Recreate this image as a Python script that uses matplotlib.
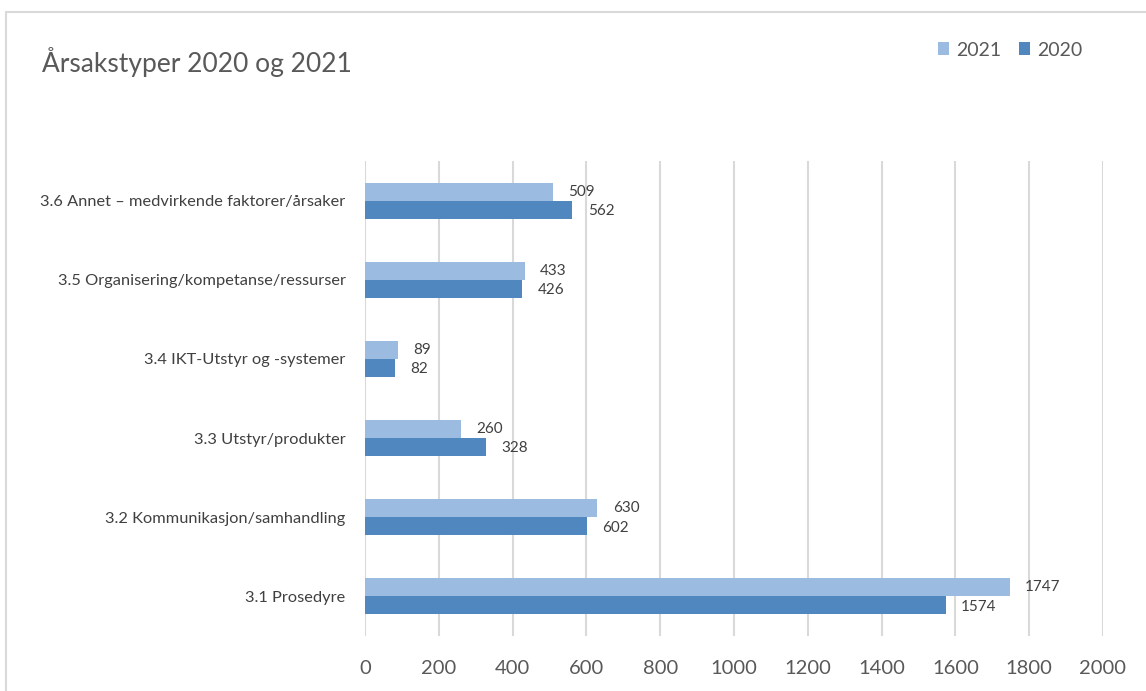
import numpy as np
import matplotlib.pyplot as plt
from matplotlib.patches import Rectangle

plt.rcParams['font.family'] = ['Lato', 'DejaVu Sans']

kategorier = ['3.1 Prosedyre',
              '3.2 Kommunikasjon/samhandling',
              '3.3 Utstyr/produkter',
              '3.4 IKT-Utstyr og -systemer',
              '3.5 Organisering/kompetanse/ressurser',
              '3.6 Annet \u2013 medvirkende faktorer/årsaker']
verdier_2021 = [1747, 630, 260, 89, 433, 509]
verdier_2020 = [1574, 602, 328, 82, 426, 562]
xticks = [0, 200, 400, 600, 800, 1000, 1200, 1400, 1600, 1800, 2000]

farge_2021 = '#9bbbe0'
farge_2020 = '#4f87be'
tekstfarge = '#595959'

W, H = 1146, 691
fig = plt.figure(figsize=(W / 100, H / 100), dpi=100)
# plottområde i piksler: x 365-1103, y 161-636
ax = fig.add_axes([365 / W, 1 - 636 / H, 738 / W, 475 / H])

y = np.arange(len(kategorier))
h = 0.228
b21 = ax.barh(y + h / 2, verdier_2021, height=h, color=farge_2021, label='2021', zorder=3)
b20 = ax.barh(y - h / 2, verdier_2020, height=h, color=farge_2020, label='2020', zorder=3)

for rect, v in zip(b21, verdier_2021):
    ax.annotate(str(v), (rect.get_width(), rect.get_y() + rect.get_height() / 2),
                xytext=(11, 0), textcoords='offset points', va='center', ha='left',
                fontsize=11, color='#404040')
for rect, v in zip(b20, verdier_2020):
    ax.annotate(str(v), (rect.get_width(), rect.get_y() + rect.get_height() / 2),
                xytext=(11, -1), textcoords='offset points', va='center', ha='left',
                fontsize=11, color='#404040')

ax.set_xlim(0, 2000)
ax.set_ylim(-0.5, len(kategorier) - 0.5)
ax.set_xticks(xticks)
ax.set_yticks(y)
ax.set_yticklabels(kategorier)
ax.tick_params(axis='x', length=0, labelsize=14.5, labelcolor=tekstfarge, pad=17)
ax.tick_params(axis='y', length=0, labelsize=11.8, labelcolor='#404040', pad=14)
ax.grid(axis='x', color='#d9d9d9', linewidth=1.5, zorder=0)
for s in ax.spines.values():
    s.set_visible(False)

fig.text(42 / W, 1 - 62 / H, 'Årsakstyper 2020 og 2021', fontsize=19,
         color=tekstfarge, va='center', ha='left')

fig.legend(handles=[b21, b20], loc='center right', bbox_to_anchor=(1100 / W, 1 - 50 / H),
           ncol=2, frameon=False, fontsize=14, handlelength=0.6, handleheight=0.6,
           handletextpad=0.35, columnspacing=0.9, labelcolor=tekstfarge)

fig.patches.append(Rectangle((6 / W, -0.1), 1.2, 1 - 12 / H + 0.1,
                             transform=fig.transFigure, fill=False,
                             edgecolor='#d9d9d9', linewidth=1.5))

fig.savefig('out.png', dpi=100)
